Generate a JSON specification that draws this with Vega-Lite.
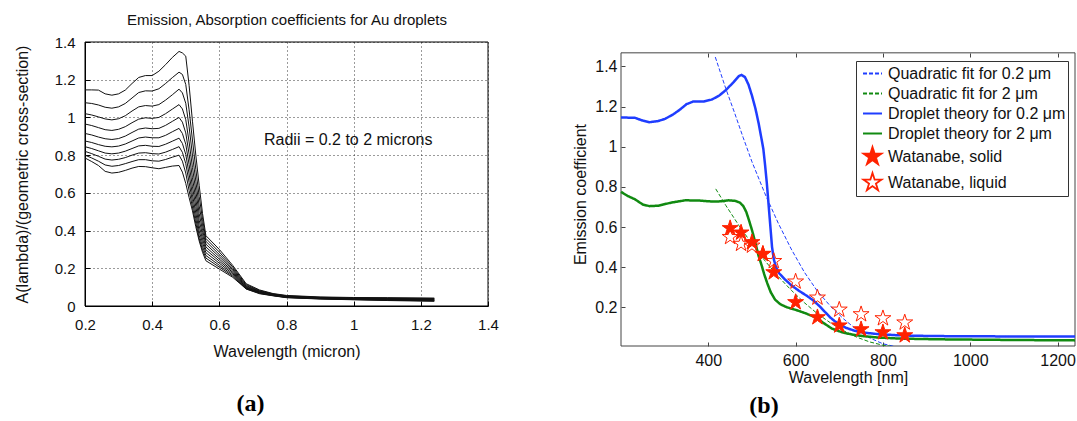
{
  "$schema": "https://vega.github.io/schema/vega-lite/v6.json",
  "padding": {"left": 14, "top": 12, "right": 0, "bottom": 0},
  "bounds": "flush",
  "spacing": 133,
  "config": {
    "font": "Liberation Sans",
    "view": {"stroke": null},
    "axis": {"labelFont": "Liberation Sans", "titleFont": "Liberation Sans", "titleFontWeight": "normal", "labelColor": "#111", "titleColor": "#111", "labelFlush": false, "labelOverlap": false},
    "legend": {"orient": "none", "legendX": 771, "legendY": 19, "padding": 2, "symbolOffset": 4, "strokeColor": "#333", "fillColor": "#fff",
      "labelFontSize": 16, "labelFont": "Liberation Sans", "labelColor": "#111", "symbolSize": 360, "labelOffset": 5, "rowPadding": 1, "labelLimit": 300, "symbolStrokeWidth": 1.8}
  },
  "datasets": {
    "absorb": [
      {"w": 0.20, "r02": 1.146, "r04": 1.078, "r06": 1.020, "r08": 0.965, "r10": 0.915, "r12": 0.875, "r14": 0.845, "r16": 0.820, "r18": 0.800, "r20": 0.785},
      {"w": 0.22, "r02": 1.146, "r04": 1.074, "r06": 1.013, "r08": 0.957, "r10": 0.907, "r12": 0.867, "r14": 0.835, "r16": 0.808, "r18": 0.785, "r20": 0.766},
      {"w": 0.24, "r02": 1.145, "r04": 1.066, "r06": 1.003, "r08": 0.946, "r10": 0.896, "r12": 0.856, "r14": 0.823, "r16": 0.794, "r18": 0.768, "r20": 0.745},
      {"w": 0.26, "r02": 1.125, "r04": 1.054, "r06": 0.992, "r08": 0.935, "r10": 0.887, "r12": 0.847, "r14": 0.811, "r16": 0.779, "r18": 0.748, "r20": 0.714},
      {"w": 0.28, "r02": 1.118, "r04": 1.049, "r06": 0.987, "r08": 0.931, "r10": 0.883, "r12": 0.844, "r14": 0.807, "r16": 0.774, "r18": 0.741, "r20": 0.705},
      {"w": 0.30, "r02": 1.125, "r04": 1.056, "r06": 0.993, "r08": 0.937, "r10": 0.888, "r12": 0.848, "r14": 0.811, "r16": 0.778, "r18": 0.745, "r20": 0.709},
      {"w": 0.32, "r02": 1.145, "r04": 1.074, "r06": 1.009, "r08": 0.951, "r10": 0.901, "r12": 0.859, "r14": 0.821, "r16": 0.787, "r18": 0.755, "r20": 0.719},
      {"w": 0.34, "r02": 1.180, "r04": 1.103, "r06": 1.034, "r08": 0.972, "r10": 0.920, "r12": 0.875, "r14": 0.835, "r16": 0.800, "r18": 0.766, "r20": 0.731},
      {"w": 0.36, "r02": 1.212, "r04": 1.132, "r06": 1.056, "r08": 0.991, "r10": 0.938, "r12": 0.891, "r14": 0.849, "r16": 0.811, "r18": 0.776, "r20": 0.740},
      {"w": 0.38, "r02": 1.222, "r04": 1.141, "r06": 1.063, "r08": 0.998, "r10": 0.944, "r12": 0.896, "r14": 0.852, "r16": 0.813, "r18": 0.776, "r20": 0.739},
      {"w": 0.40, "r02": 1.222, "r04": 1.140, "r06": 1.060, "r08": 0.995, "r10": 0.940, "r12": 0.892, "r14": 0.847, "r16": 0.808, "r18": 0.770, "r20": 0.733},
      {"w": 0.42, "r02": 1.245, "r04": 1.152, "r06": 1.068, "r08": 1.000, "r10": 0.942, "r12": 0.892, "r14": 0.846, "r16": 0.806, "r18": 0.768, "r20": 0.728},
      {"w": 0.44, "r02": 1.280, "r04": 1.180, "r06": 1.092, "r08": 1.020, "r10": 0.958, "r12": 0.905, "r14": 0.858, "r16": 0.816, "r18": 0.777, "r20": 0.735},
      {"w": 0.46, "r02": 1.318, "r04": 1.211, "r06": 1.120, "r08": 1.044, "r10": 0.979, "r12": 0.924, "r14": 0.874, "r16": 0.830, "r18": 0.789, "r20": 0.742},
      {"w": 0.48, "r02": 1.350, "r04": 1.240, "r06": 1.150, "r08": 1.068, "r10": 1.000, "r12": 0.942, "r14": 0.890, "r16": 0.845, "r18": 0.800, "r20": 0.745},
      {"w": 0.49, "r02": 1.342, "r04": 1.228, "r06": 1.130, "r08": 1.045, "r10": 0.975, "r12": 0.915, "r14": 0.862, "r16": 0.815, "r18": 0.768, "r20": 0.710},
      {"w": 0.50, "r02": 1.325, "r04": 1.175, "r06": 1.075, "r08": 0.988, "r10": 0.918, "r12": 0.858, "r14": 0.804, "r16": 0.755, "r18": 0.705, "r20": 0.650},
      {"w": 0.51, "r02": 1.170, "r04": 1.040, "r06": 0.950, "r08": 0.870, "r10": 0.805, "r12": 0.750, "r14": 0.700, "r16": 0.655, "r18": 0.612, "r20": 0.575},
      {"w": 0.52, "r02": 0.980, "r04": 0.880, "r06": 0.800, "r08": 0.735, "r10": 0.680, "r12": 0.632, "r14": 0.590, "r16": 0.555, "r18": 0.525, "r20": 0.505},
      {"w": 0.53, "r02": 0.800, "r04": 0.725, "r06": 0.662, "r08": 0.610, "r10": 0.565, "r12": 0.527, "r14": 0.493, "r16": 0.463, "r18": 0.438, "r20": 0.420},
      {"w": 0.54, "r02": 0.640, "r04": 0.580, "r06": 0.530, "r08": 0.490, "r10": 0.455, "r12": 0.425, "r14": 0.398, "r16": 0.375, "r18": 0.357, "r20": 0.345},
      {"w": 0.55, "r02": 0.490, "r04": 0.460, "r06": 0.430, "r08": 0.402, "r10": 0.378, "r12": 0.355, "r14": 0.335, "r16": 0.315, "r18": 0.298, "r20": 0.285},
      {"w": 0.56, "r02": 0.373, "r04": 0.358, "r06": 0.343, "r08": 0.328, "r10": 0.313, "r12": 0.298, "r14": 0.283, "r16": 0.268, "r18": 0.254, "r20": 0.240},
      {"w": 0.60, "r02": 0.300, "r04": 0.286, "r06": 0.273, "r08": 0.261, "r10": 0.249, "r12": 0.238, "r14": 0.227, "r16": 0.216, "r18": 0.206, "r20": 0.196},
      {"w": 0.64, "r02": 0.215, "r04": 0.207, "r06": 0.199, "r08": 0.192, "r10": 0.185, "r12": 0.178, "r14": 0.171, "r16": 0.164, "r18": 0.158, "r20": 0.152},
      {"w": 0.68, "r02": 0.118, "r04": 0.113, "r06": 0.108, "r08": 0.104, "r10": 0.100, "r12": 0.097, "r14": 0.095, "r16": 0.093, "r18": 0.091, "r20": 0.090},
      {"w": 0.72, "r02": 0.085, "r04": 0.082, "r06": 0.079, "r08": 0.077, "r10": 0.075, "r12": 0.073, "r14": 0.071, "r16": 0.069, "r18": 0.067, "r20": 0.065},
      {"w": 0.76, "r02": 0.066, "r04": 0.064, "r06": 0.062, "r08": 0.060, "r10": 0.059, "r12": 0.058, "r14": 0.057, "r16": 0.056, "r18": 0.055, "r20": 0.054},
      {"w": 0.80, "r02": 0.056, "r04": 0.054, "r06": 0.052, "r08": 0.050, "r10": 0.049, "r12": 0.048, "r14": 0.047, "r16": 0.046, "r18": 0.045, "r20": 0.044},
      {"w": 0.90, "r02": 0.048, "r04": 0.046, "r06": 0.044, "r08": 0.043, "r10": 0.042, "r12": 0.041, "r14": 0.040, "r16": 0.039, "r18": 0.038, "r20": 0.037},
      {"w": 1.00, "r02": 0.045, "r04": 0.043, "r06": 0.041, "r08": 0.040, "r10": 0.039, "r12": 0.038, "r14": 0.036, "r16": 0.035, "r18": 0.034, "r20": 0.033},
      {"w": 1.10, "r02": 0.044, "r04": 0.042, "r06": 0.040, "r08": 0.038, "r10": 0.037, "r12": 0.035, "r14": 0.033, "r16": 0.032, "r18": 0.031, "r20": 0.029},
      {"w": 1.24, "r02": 0.042, "r04": 0.040, "r06": 0.038, "r08": 0.036, "r10": 0.034, "r12": 0.032, "r14": 0.030, "r16": 0.029, "r18": 0.027, "r20": 0.025}
    ],
    "fits": [
      {"series": "Quadratic fit for 0.2 μm", "nm": 416, "v": 1.447},
      {"series": "Quadratic fit for 0.2 μm", "nm": 440, "v": 1.29},
      {"series": "Quadratic fit for 0.2 μm", "nm": 460, "v": 1.17},
      {"series": "Quadratic fit for 0.2 μm", "nm": 480, "v": 1.045},
      {"series": "Quadratic fit for 0.2 μm", "nm": 500, "v": 0.925},
      {"series": "Quadratic fit for 0.2 μm", "nm": 530, "v": 0.765},
      {"series": "Quadratic fit for 0.2 μm", "nm": 560, "v": 0.62},
      {"series": "Quadratic fit for 0.2 μm", "nm": 590, "v": 0.49},
      {"series": "Quadratic fit for 0.2 μm", "nm": 620, "v": 0.375},
      {"series": "Quadratic fit for 0.2 μm", "nm": 650, "v": 0.28},
      {"series": "Quadratic fit for 0.2 μm", "nm": 680, "v": 0.205},
      {"series": "Quadratic fit for 0.2 μm", "nm": 710, "v": 0.142},
      {"series": "Quadratic fit for 0.2 μm", "nm": 740, "v": 0.088},
      {"series": "Quadratic fit for 0.2 μm", "nm": 770, "v": 0.047},
      {"series": "Quadratic fit for 0.2 μm", "nm": 800, "v": 0.018},
      {"series": "Quadratic fit for 0.2 μm", "nm": 830, "v": 0.003},
      {"series": "Quadratic fit for 2 μm", "nm": 417, "v": 0.79},
      {"series": "Quadratic fit for 2 μm", "nm": 440, "v": 0.708},
      {"series": "Quadratic fit for 2 μm", "nm": 470, "v": 0.608},
      {"series": "Quadratic fit for 2 μm", "nm": 500, "v": 0.516},
      {"series": "Quadratic fit for 2 μm", "nm": 530, "v": 0.431},
      {"series": "Quadratic fit for 2 μm", "nm": 560, "v": 0.354},
      {"series": "Quadratic fit for 2 μm", "nm": 590, "v": 0.285},
      {"series": "Quadratic fit for 2 μm", "nm": 620, "v": 0.223},
      {"series": "Quadratic fit for 2 μm", "nm": 650, "v": 0.168},
      {"series": "Quadratic fit for 2 μm", "nm": 680, "v": 0.122},
      {"series": "Quadratic fit for 2 μm", "nm": 710, "v": 0.083},
      {"series": "Quadratic fit for 2 μm", "nm": 740, "v": 0.051},
      {"series": "Quadratic fit for 2 μm", "nm": 770, "v": 0.027},
      {"series": "Quadratic fit for 2 μm", "nm": 800, "v": 0.011},
      {"series": "Quadratic fit for 2 μm", "nm": 830, "v": 0.002}
    ],
    "theory": [
      {"series": "Droplet theory for 0.2 μm", "nm": 200, "v": 1.146},
      {"series": "Droplet theory for 0.2 μm", "nm": 232, "v": 1.144},
      {"series": "Droplet theory for 0.2 μm", "nm": 250, "v": 1.13},
      {"series": "Droplet theory for 0.2 μm", "nm": 265, "v": 1.122},
      {"series": "Droplet theory for 0.2 μm", "nm": 285, "v": 1.128},
      {"series": "Droplet theory for 0.2 μm", "nm": 301, "v": 1.139},
      {"series": "Droplet theory for 0.2 μm", "nm": 320, "v": 1.162},
      {"series": "Droplet theory for 0.2 μm", "nm": 335, "v": 1.185},
      {"series": "Droplet theory for 0.2 μm", "nm": 350, "v": 1.212},
      {"series": "Droplet theory for 0.2 μm", "nm": 365, "v": 1.225},
      {"series": "Droplet theory for 0.2 μm", "nm": 390, "v": 1.226},
      {"series": "Droplet theory for 0.2 μm", "nm": 408, "v": 1.235},
      {"series": "Droplet theory for 0.2 μm", "nm": 425, "v": 1.255},
      {"series": "Droplet theory for 0.2 μm", "nm": 440, "v": 1.282},
      {"series": "Droplet theory for 0.2 μm", "nm": 458, "v": 1.322},
      {"series": "Droplet theory for 0.2 μm", "nm": 470, "v": 1.352},
      {"series": "Droplet theory for 0.2 μm", "nm": 476, "v": 1.358},
      {"series": "Droplet theory for 0.2 μm", "nm": 484, "v": 1.347},
      {"series": "Droplet theory for 0.2 μm", "nm": 492, "v": 1.31},
      {"series": "Droplet theory for 0.2 μm", "nm": 500, "v": 1.255},
      {"series": "Droplet theory for 0.2 μm", "nm": 508, "v": 1.19},
      {"series": "Droplet theory for 0.2 μm", "nm": 515, "v": 1.12},
      {"series": "Droplet theory for 0.2 μm", "nm": 521, "v": 1.05},
      {"series": "Droplet theory for 0.2 μm", "nm": 526, "v": 0.99},
      {"series": "Droplet theory for 0.2 μm", "nm": 530, "v": 0.91},
      {"series": "Droplet theory for 0.2 μm", "nm": 534, "v": 0.82},
      {"series": "Droplet theory for 0.2 μm", "nm": 537, "v": 0.74},
      {"series": "Droplet theory for 0.2 μm", "nm": 540, "v": 0.66},
      {"series": "Droplet theory for 0.2 μm", "nm": 543, "v": 0.58},
      {"series": "Droplet theory for 0.2 μm", "nm": 546, "v": 0.5},
      {"series": "Droplet theory for 0.2 μm", "nm": 550, "v": 0.44},
      {"series": "Droplet theory for 0.2 μm", "nm": 555, "v": 0.4},
      {"series": "Droplet theory for 0.2 μm", "nm": 562, "v": 0.37},
      {"series": "Droplet theory for 0.2 μm", "nm": 575, "v": 0.34},
      {"series": "Droplet theory for 0.2 μm", "nm": 590, "v": 0.31},
      {"series": "Droplet theory for 0.2 μm", "nm": 607, "v": 0.283},
      {"series": "Droplet theory for 0.2 μm", "nm": 625, "v": 0.258},
      {"series": "Droplet theory for 0.2 μm", "nm": 640, "v": 0.235},
      {"series": "Droplet theory for 0.2 μm", "nm": 655, "v": 0.205},
      {"series": "Droplet theory for 0.2 μm", "nm": 668, "v": 0.175},
      {"series": "Droplet theory for 0.2 μm", "nm": 680, "v": 0.148},
      {"series": "Droplet theory for 0.2 μm", "nm": 690, "v": 0.13},
      {"series": "Droplet theory for 0.2 μm", "nm": 702, "v": 0.112},
      {"series": "Droplet theory for 0.2 μm", "nm": 715, "v": 0.098},
      {"series": "Droplet theory for 0.2 μm", "nm": 735, "v": 0.083},
      {"series": "Droplet theory for 0.2 μm", "nm": 755, "v": 0.074},
      {"series": "Droplet theory for 0.2 μm", "nm": 790, "v": 0.066},
      {"series": "Droplet theory for 0.2 μm", "nm": 830, "v": 0.061},
      {"series": "Droplet theory for 0.2 μm", "nm": 870, "v": 0.058},
      {"series": "Droplet theory for 0.2 μm", "nm": 950, "v": 0.056},
      {"series": "Droplet theory for 0.2 μm", "nm": 1050, "v": 0.055},
      {"series": "Droplet theory for 0.2 μm", "nm": 1240, "v": 0.054},
      {"series": "Droplet theory for 2 μm", "nm": 200, "v": 0.775},
      {"series": "Droplet theory for 2 μm", "nm": 215, "v": 0.755},
      {"series": "Droplet theory for 2 μm", "nm": 232, "v": 0.738},
      {"series": "Droplet theory for 2 μm", "nm": 250, "v": 0.712},
      {"series": "Droplet theory for 2 μm", "nm": 265, "v": 0.704},
      {"series": "Droplet theory for 2 μm", "nm": 285, "v": 0.706},
      {"series": "Droplet theory for 2 μm", "nm": 316, "v": 0.722},
      {"series": "Droplet theory for 2 μm", "nm": 347, "v": 0.733},
      {"series": "Droplet theory for 2 μm", "nm": 378, "v": 0.732},
      {"series": "Droplet theory for 2 μm", "nm": 408, "v": 0.727},
      {"series": "Droplet theory for 2 μm", "nm": 430, "v": 0.728},
      {"series": "Droplet theory for 2 μm", "nm": 446, "v": 0.733},
      {"series": "Droplet theory for 2 μm", "nm": 462, "v": 0.73},
      {"series": "Droplet theory for 2 μm", "nm": 472, "v": 0.722},
      {"series": "Droplet theory for 2 μm", "nm": 480, "v": 0.705},
      {"series": "Droplet theory for 2 μm", "nm": 487, "v": 0.675},
      {"series": "Droplet theory for 2 μm", "nm": 493, "v": 0.635},
      {"series": "Droplet theory for 2 μm", "nm": 500, "v": 0.585},
      {"series": "Droplet theory for 2 μm", "nm": 508, "v": 0.52},
      {"series": "Droplet theory for 2 μm", "nm": 515, "v": 0.457},
      {"series": "Droplet theory for 2 μm", "nm": 522, "v": 0.41},
      {"series": "Droplet theory for 2 μm", "nm": 528, "v": 0.365},
      {"series": "Droplet theory for 2 μm", "nm": 535, "v": 0.32},
      {"series": "Droplet theory for 2 μm", "nm": 543, "v": 0.275},
      {"series": "Droplet theory for 2 μm", "nm": 553, "v": 0.238},
      {"series": "Droplet theory for 2 μm", "nm": 565, "v": 0.215},
      {"series": "Droplet theory for 2 μm", "nm": 580, "v": 0.2},
      {"series": "Droplet theory for 2 μm", "nm": 606, "v": 0.183},
      {"series": "Droplet theory for 2 μm", "nm": 625, "v": 0.168},
      {"series": "Droplet theory for 2 μm", "nm": 645, "v": 0.15},
      {"series": "Droplet theory for 2 μm", "nm": 665, "v": 0.12},
      {"series": "Droplet theory for 2 μm", "nm": 683, "v": 0.094},
      {"series": "Droplet theory for 2 μm", "nm": 700, "v": 0.08},
      {"series": "Droplet theory for 2 μm", "nm": 714, "v": 0.071},
      {"series": "Droplet theory for 2 μm", "nm": 735, "v": 0.062},
      {"series": "Droplet theory for 2 μm", "nm": 760, "v": 0.055},
      {"series": "Droplet theory for 2 μm", "nm": 790, "v": 0.049},
      {"series": "Droplet theory for 2 μm", "nm": 828, "v": 0.045},
      {"series": "Droplet theory for 2 μm", "nm": 880, "v": 0.042},
      {"series": "Droplet theory for 2 μm", "nm": 943, "v": 0.04},
      {"series": "Droplet theory for 2 μm", "nm": 1095, "v": 0.037},
      {"series": "Droplet theory for 2 μm", "nm": 1240, "v": 0.035}
    ],
    "solid": [
      {"series": "Watanabe, solid", "nm": 450, "v": 0.594}, {"series": "Watanabe, solid", "nm": 475, "v": 0.572},
      {"series": "Watanabe, solid", "nm": 500, "v": 0.524}, {"series": "Watanabe, solid", "nm": 525, "v": 0.465},
      {"series": "Watanabe, solid", "nm": 550, "v": 0.374}, {"series": "Watanabe, solid", "nm": 600, "v": 0.225},
      {"series": "Watanabe, solid", "nm": 650, "v": 0.15}, {"series": "Watanabe, solid", "nm": 700, "v": 0.109},
      {"series": "Watanabe, solid", "nm": 750, "v": 0.09}, {"series": "Watanabe, solid", "nm": 800, "v": 0.075},
      {"series": "Watanabe, solid", "nm": 850, "v": 0.06}
    ],
    "liquid": [
      {"series": "Watanabe, liquid", "nm": 450, "v": 0.55}, {"series": "Watanabe, liquid", "nm": 475, "v": 0.516},
      {"series": "Watanabe, liquid", "nm": 500, "v": 0.507}, {"series": "Watanabe, liquid", "nm": 525, "v": 0.466},
      {"series": "Watanabe, liquid", "nm": 550, "v": 0.43}, {"series": "Watanabe, liquid", "nm": 600, "v": 0.328},
      {"series": "Watanabe, liquid", "nm": 650, "v": 0.248}, {"series": "Watanabe, liquid", "nm": 700, "v": 0.188},
      {"series": "Watanabe, liquid", "nm": 750, "v": 0.165}, {"series": "Watanabe, liquid", "nm": 800, "v": 0.145},
      {"series": "Watanabe, liquid", "nm": 850, "v": 0.124}
    ],
    "one": [{"label": "Radii = 0.2 to 2 microns"}]
  },
  "hconcat": [
    {
      "width": 403,
      "height": 264,
      "title": {"text": "(a)", "orient": "bottom", "anchor": "middle", "font": "Liberation Serif", "fontSize": 24, "fontWeight": "bold", "color": "#000", "dx": -36, "offset": 33},
      "layer": [
        {
          "data": {"name": "one"},
          "mark": {"type": "rect", "fill": "transparent", "stroke": "#000", "strokeWidth": 1},
          "encoding": {
            "x": {"datum": 0.2, "type": "quantitative", "axis": null},
            "x2": {"datum": 1.4},
            "y": {"datum": 0, "type": "quantitative",
              "axis": {"orient": "left", "values": [0, 0.2, 0.4, 0.6, 0.8, 1, 1.2, 1.4], "format": "~g", "title": "A(lambda)/(geometric cross-section)",
                "grid": true, "gridDash": [1, 3], "gridColor": "#222", "gridOpacity": 0.9, "domain": true, "domainColor": "#000", "tickColor": "#000", "tickSize": -5,
                "labelPadding": 15, "labelFontSize": 15, "titleFontSize": 16, "titlePadding": 24, "labelOverlap": false, "tickCount": 8}},
            "y2": {"datum": 1.4}
          }
        },
        {
          "data": {"name": "absorb"},
          "transform": [{"fold": ["r02", "r04", "r06", "r08", "r10", "r12", "r14", "r16", "r18", "r20"], "as": ["radius", "a"]}],
          "mark": {"type": "line", "color": "#111", "strokeWidth": 1},
          "encoding": {
            "x": {"field": "w", "type": "quantitative", "scale": {"domain": [0.2, 1.4], "nice": false, "zero": false},
              "axis": {"orient": "bottom", "values": [0.2, 0.4, 0.6, 0.8, 1, 1.2, 1.4], "format": "~g", "title": "Wavelength (micron)",
                "grid": true, "gridDash": [1, 3], "gridColor": "#222", "gridOpacity": 0.9, "domain": true, "domainColor": "#000", "tickColor": "#000", "tickSize": -5,
                "labelPadding": 16, "labelFontSize": 15, "titleFontSize": 16, "titlePadding": 11}},
            "y": {"field": "a", "type": "quantitative", "scale": {"domain": [0, 1.4], "nice": false},
              "axis": {"orient": "left", "values": [0, 0.2, 0.4, 0.6, 0.8, 1, 1.2, 1.4], "format": "~g", "title": "A(lambda)/(geometric cross-section)",
                "grid": true, "gridDash": [1, 3], "gridColor": "#222", "gridOpacity": 0.9, "domain": true, "domainColor": "#000", "tickColor": "#000", "tickSize": -5,
                "labelPadding": 15, "labelFontSize": 15, "titleFontSize": 16, "titlePadding": 24, "labelOverlap": false, "tickCount": 8}},
            "detail": {"field": "radius"}
          }
        },
        {
          "data": {"name": "one"},
          "mark": {"type": "text", "align": "left", "baseline": "middle", "fontSize": 16, "color": "#111"},
          "encoding": {
            "text": {"field": "label"},
            "x": {"datum": 0.733, "type": "quantitative",
              "axis": {"orient": "top", "title": "Emission, Absorption coefficients for Au droplets", "labels": false, "ticks": false, "domain": false, "grid": false, "titleFontSize": 15, "titlePadding": 15}},
            "y": {"datum": 0.88, "type": "quantitative",
              "axis": {"orient": "left", "values": [0, 0.2, 0.4, 0.6, 0.8, 1, 1.2, 1.4], "format": "~g", "title": "A(lambda)/(geometric cross-section)",
                "grid": true, "gridDash": [1, 3], "gridColor": "#222", "gridOpacity": 0.9, "domain": true, "domainColor": "#000", "tickColor": "#000", "tickSize": -5,
                "labelPadding": 15, "labelFontSize": 15, "titleFontSize": 16, "titlePadding": 24, "labelOverlap": false, "tickCount": 8}}
          }
        }
      ]
    },
    {
      "width": 454,
      "height": 304,
      "title": {"text": "(b)", "orient": "bottom", "anchor": "middle", "font": "Liberation Serif", "fontSize": 24, "fontWeight": "bold", "color": "#000", "dx": -84, "offset": 9},
      "layer": [
        {
          "data": {"name": "one"},
          "mark": {"type": "rect", "fill": "transparent", "stroke": "#444", "strokeWidth": 1},
          "encoding": {
            "x": {"datum": 200, "type": "quantitative",
              "axis": {"orient": "top", "values": [400, 600, 800, 1000, 1200], "labels": false, "domain": false, "grid": false, "title": null, "tickSize": -4, "tickColor": "#444", "offset": -11}},
            "x2": {"datum": 1240},
            "y": {"datum": 0.007, "type": "quantitative"},
            "y2": {"datum": 1.468}
          }
        },
        {
          "data": {"name": "fits"},
          "mark": {"type": "line", "strokeWidth": 1, "clip": true},
          "encoding": {
            "x": {"field": "nm", "type": "quantitative", "scale": {"domain": [200, 1240], "nice": false, "zero": false},
              "axis": {"orient": "bottom", "values": [400, 600, 800, 1000, 1200], "format": "d", "title": "Wavelength [nm]", "domain": false, "grid": false,
                "tickSize": -4, "tickColor": "#444", "labelPadding": 10, "labelFontSize": 16, "titleFontSize": 16, "titlePadding": 1}},
            "y": {"field": "v", "type": "quantitative", "scale": {"domain": [0.007, 1.522], "nice": false, "zero": false},
              "axis": {"orient": "left", "values": [0.2, 0.4, 0.6, 0.8, 1, 1.2, 1.4], "format": "~g", "title": "Emission coefficient", "domain": false, "grid": false,
                "tickSize": -4, "tickColor": "#444", "labelPadding": 8, "labelFontSize": 16, "titleFontSize": 16, "titlePadding": 6}},
            "color": {"field": "series", "type": "nominal", "title": null,
              "scale": {"domain": ["Quadratic fit for 0.2 μm", "Quadratic fit for 2 μm", "Droplet theory for 0.2 μm", "Droplet theory for 2 μm", "Watanabe, solid", "Watanabe, liquid"],
                "range": ["#1f3dff", "#118a11", "#1f3dff", "#118a11", "#ff2200", "#ff2200"]}},
            "strokeDash": {"field": "series", "type": "nominal", "title": null,
              "scale": {"domain": ["Quadratic fit for 0.2 μm", "Quadratic fit for 2 μm", "Droplet theory for 0.2 μm", "Droplet theory for 2 μm", "Watanabe, solid", "Watanabe, liquid"],
                "range": [[4, 2], [4, 2], [1, 0], [1, 0], [1, 0], [1, 0]]}}
          }
        },
        {
          "data": {"name": "theory"},
          "mark": {"type": "line", "strokeWidth": 2.5},
          "encoding": {
            "x": {"field": "nm", "type": "quantitative", "axis": null},
            "y": {"field": "v", "type": "quantitative"},
            "color": {"field": "series", "type": "nominal", "title": null},
            "strokeDash": {"field": "series", "type": "nominal", "title": null}
          }
        },
        {
          "data": {"name": "liquid"},
          "mark": {"type": "point", "size": 280, "filled": false, "stroke": "#ff2200", "strokeWidth": 1, "opacity": 1},
          "encoding": {
            "x": {"field": "nm", "type": "quantitative", "axis": null},
            "y": {"field": "v", "type": "quantitative"},
            "shape": {"field": "series", "type": "nominal", "title": null,
              "scale": {"domain": ["Quadratic fit for 0.2 μm", "Quadratic fit for 2 μm", "Droplet theory for 0.2 μm", "Droplet theory for 2 μm", "Watanabe, solid", "Watanabe, liquid"],
                "range": ["stroke", "stroke", "stroke", "stroke",
                  "M0,-1L0.225,-0.309L0.951,-0.309L0.363,0.118L0.588,0.809L0,0.382L-0.588,0.809L-0.363,0.118L-0.951,-0.309L-0.225,-0.309Z",
                  "M0,-1L0.225,-0.309L0.951,-0.309L0.363,0.118L0.588,0.809L0,0.382L-0.588,0.809L-0.363,0.118L-0.951,-0.309L-0.225,-0.309Z"]}}
          }
        },
        {
          "data": {"name": "solid"},
          "mark": {"type": "point", "size": 280, "filled": true, "stroke": "#ff2200", "strokeWidth": 1, "opacity": 1},
          "encoding": {
            "x": {"field": "nm", "type": "quantitative", "axis": null},
            "y": {"field": "v", "type": "quantitative"},
            "shape": {"field": "series", "type": "nominal", "title": null},
            "fill": {"field": "series", "type": "nominal", "title": null,
              "scale": {"domain": ["Quadratic fit for 0.2 μm", "Quadratic fit for 2 μm", "Droplet theory for 0.2 μm", "Droplet theory for 2 μm", "Watanabe, solid", "Watanabe, liquid"],
                "range": ["transparent", "transparent", "transparent", "transparent", "#ff2200", "transparent"]}}
          }
        }
      ]
    }
  ]
}
